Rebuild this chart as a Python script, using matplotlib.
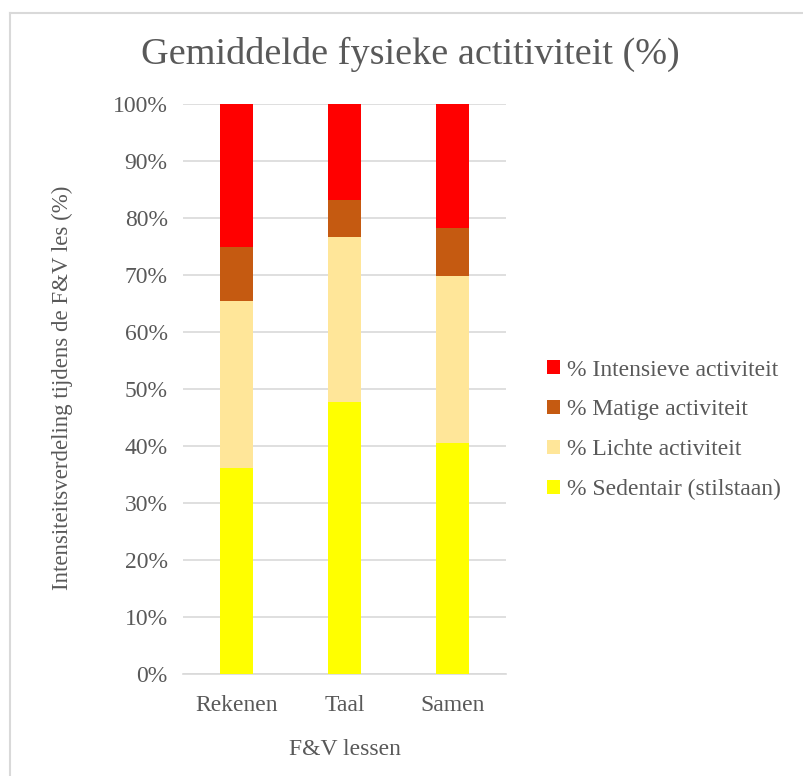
import matplotlib
matplotlib.use("Agg")
import matplotlib.pyplot as plt
from matplotlib.patches import Patch
from matplotlib.lines import Line2D
from matplotlib.ticker import PercentFormatter

# --- data ---
lessen = ["Rekenen", "Taal", "Samen"]
sedentair = [36.1, 47.7, 40.6]
lichte = [29.3, 29.0, 29.3]
matige = [9.6, 6.4, 8.3]
intensieve = [25.0, 16.9, 21.8]

series = [
    ("% Sedentair (stilstaan)", sedentair, "#FFFF00"),
    ("% Lichte activiteit", lichte, "#FFE699"),
    ("% Matige activiteit", matige, "#C55A11"),
    ("% Intensieve activiteit", intensieve, "#FF0000"),
]

TXT = "#595959"
plt.rcParams["font.family"] = ["Liberation Serif", "DejaVu Serif"]

fig = plt.figure(figsize=(8.04, 7.76), dpi=100)
ax = fig.add_axes([183 / 804, 1 - 674 / 776, (506 - 183) / 804, (674 - 104) / 776])

x = range(len(lessen))
bottom = [0.0] * len(lessen)
handles = []
for label, vals, color in series:
    ax.bar(x, vals, width=0.305, bottom=bottom, color=color, zorder=3)
    bottom = [b + v for b, v in zip(bottom, vals)]
    handles.append(Patch(facecolor=color, label=label))

ax.set_xlim(-0.5, 2.5)
ax.set_ylim(0, 100)
ax.set_yticks(range(0, 101, 10))
ax.yaxis.set_major_formatter(PercentFormatter(decimals=0))
ax.set_xticks(list(x))
ax.set_xticklabels(lessen)
ax.grid(axis="y", color="#D9D9D9", lw=1.2, zorder=0)
for s in ["left", "right", "top"]:
    ax.spines[s].set_visible(False)
ax.spines["bottom"].set_color("#D9D9D9")
ax.spines["bottom"].set_linewidth(1.2)
ax.tick_params(length=0, labelsize=17, colors=TXT)
ax.tick_params(axis="y", pad=11)
ax.tick_params(axis="x", pad=15)

ax.set_xlabel("F&V lessen", fontsize=17, color=TXT, labelpad=17)
fig.text(62 / 804, 1 - 388 / 776, "Intensiteitsverdeling tijdens de F&V les (%)",
         rotation=90, ha="center", va="center", fontsize=16.5, color=TXT)
fig.text(410 / 804, 1 - 54 / 776, "Gemiddelde fysieke actitiviteit (%)",
         ha="center", va="center", fontsize=27.5, color=TXT)

leg = fig.legend(handles=handles[::-1], loc="center left",
                 bbox_to_anchor=(526 / 804, 1 - 430 / 776), frameon=False,
                 fontsize=17, handlelength=0.55, handleheight=0.55,
                 handletextpad=0.3, labelspacing=0.8)
for t in leg.get_texts():
    t.set_color(TXT)

# outer chart frame (top and left edges visible in reference)
fig.add_artist(Line2D([10 / 804, 1], [1 - 13 / 776] * 2, color="#D9D9D9", lw=1.5))
fig.add_artist(Line2D([10 / 804] * 2, [0, 1 - 13 / 776], color="#D9D9D9", lw=1.5))

fig.savefig("out.png", dpi=100, facecolor="white")
